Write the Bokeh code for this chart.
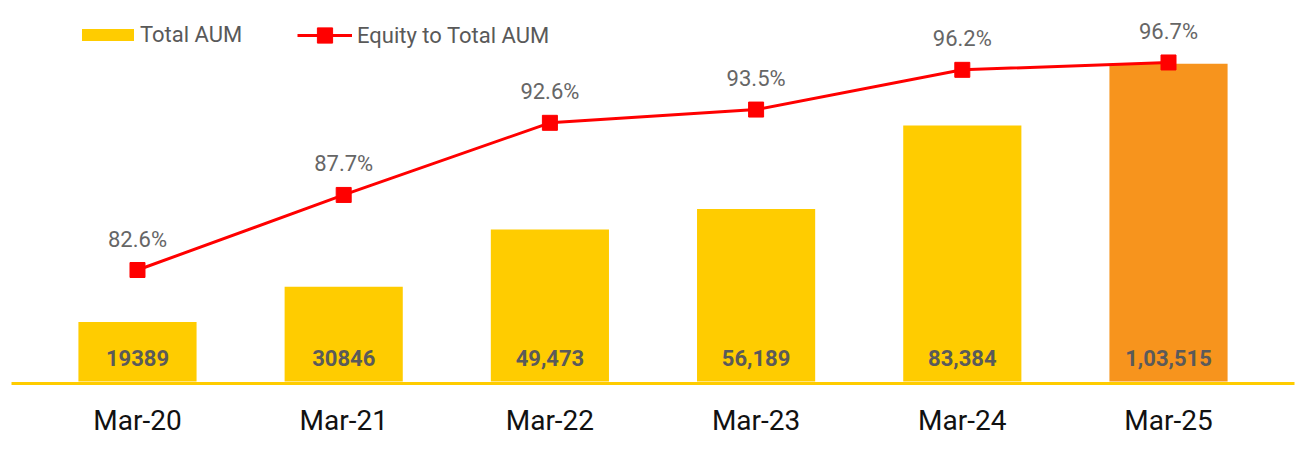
from bokeh.plotting import figure
from bokeh.models import (ColumnDataSource, FactorRange, Range1d, Legend, LegendItem)
from bokeh.core.properties import value
from bokeh.embed import file_html
from bokeh.resources import INLINE

# ---- data ----
categories = ["Mar-20", "Mar-21", "Mar-22", "Mar-23", "Mar-24", "Mar-25"]
total_aum = [19389, 30846, 49473, 56189, 83384, 103515]
aum_labels = ["19389", "30846", "49,473", "56,189", "83,384", "1,03,515"]
equity_pct = [82.6, 87.7, 92.6, 93.5, 96.2, 96.7]
pct_labels = ["82.6%", "87.7%", "92.6%", "93.5%", "96.2%", "96.7%"]
bar_colors = ["#FFCC00", "#FFCC00", "#FFCC00", "#FFCC00", "#FFCC00", "#F7941D"]

FONT = "Roboto"

src = ColumnDataSource(dict(
    cat=categories, aum=total_aum, aum_lbl=aum_labels,
    pct=equity_pct, pct_lbl=pct_labels, color=bar_colors,
    zero=[0] * len(categories),
))

p = figure(
    width=1299, height=452,
    x_range=FactorRange(factors=categories, range_padding=0.111,
                        range_padding_units="absolute"),
    y_range=Range1d(-651, 124105),
    output_backend="svg", toolbar_location=None,
    y_axis_location=None,
    min_border_left=11, min_border_right=5, min_border_top=0, min_border_bottom=69,
)
p.extra_y_ranges = {"pct": Range1d(74.89, 100.91)}
p.outline_line_color = None
p.xgrid.grid_line_color = None
p.ygrid.grid_line_color = None
p.background_fill_color = "white"
p.border_fill_color = "white"

xa = p.xaxis[0]
xa.axis_line_color = "#FFCC00"
xa.axis_line_width = 3
xa.major_tick_line_color = None
xa.minor_tick_line_color = None
xa.major_label_text_font = FONT
xa.major_label_text_font_size = "28px"
xa.major_label_text_color = "#111111"
xa.major_label_standoff = 14

bars = p.vbar(x="cat", top="aum", width=0.573, source=src, fill_color="color",
              line_color=None)

p.text(x="cat", y="zero", text="aum_lbl", source=src, text_align="center",
       text_baseline="middle", y_offset=-24, text_font=value(FONT),
       text_font_size="22px", text_font_style="bold", text_color="#5A5A5A")

line = p.line(x="cat", y="pct", source=src, y_range_name="pct",
              line_color="#FF0000", line_width=3)
marks = p.scatter(x="cat", y="pct", source=src, y_range_name="pct", marker="square",
                  size=15, fill_color="#FF0000", line_color="#FF0000")

p.text(x="cat", y="pct", text="pct_lbl", source=src, y_range_name="pct",
       text_align="center", text_baseline="middle", y_offset=-31,
       text_font=value(FONT), text_font_size="22px", text_color="#666666")

common = dict(orientation="horizontal", padding=0, margin=0, spacing=0,
              border_line_color=None, background_fill_alpha=0,
              label_text_font=FONT, label_text_font_size="22px",
              label_text_color="#595959")

leg1 = Legend(items=[LegendItem(label="Total AUM", renderers=[bars])],
              location=(64, 336), glyph_width=65, glyph_height=15,
              label_standoff=0, **common)
leg2 = Legend(items=[LegendItem(label="Equity to Total AUM", renderers=[line, marks])],
              location=(286, 329), glyph_width=55, glyph_height=38,
              label_standoff=5, **common)
p.add_layout(leg1)
p.add_layout(leg2)

open("out.html", "w").write(file_html(p, INLINE))
